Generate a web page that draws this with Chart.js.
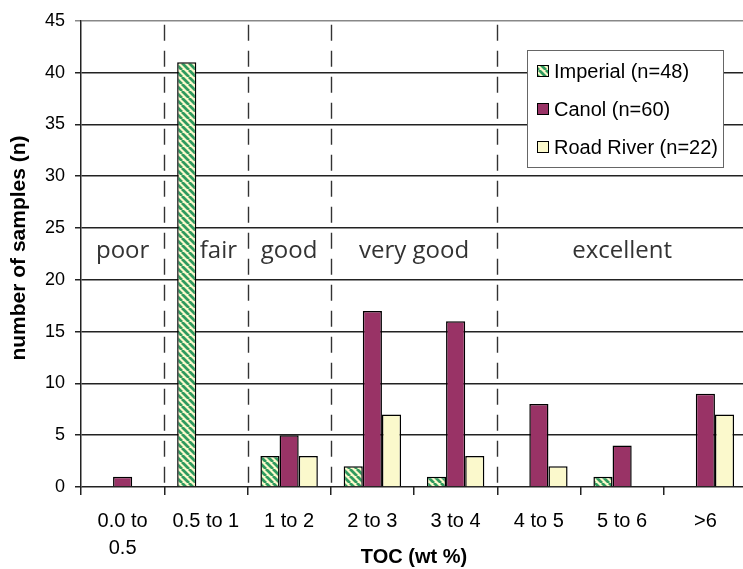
<!DOCTYPE html>
<html>
<head>
<meta charset="utf-8">
<script src="https://cdn.jsdelivr.net/npm/chart.js@4.4.1/dist/chart.umd.min.js"></script>
<style>
  html, body { margin: 0; padding: 0; background: #fff; overflow: hidden; }
  #wrap { width: 747px; height: 569px; }
</style>
</head>
<body>
<div id="wrap"><canvas id="tocChart"></canvas></div>
<script>
  // TOC categories
  const categories = [['0.0 to', '0.5'], '0.5 to 1', '1 to 2', '2 to 3', '3 to 4', '4 to 5', '5 to 6', '>6'];

  // sample counts per category
  const imperial = [0, 41, 3, 2, 1, 0, 1, 0];
  const canol = [1, 0, 5, 17, 16, 8, 4, 9];
  const roadRiver = [0, 0, 3, 7, 3, 2, 0, 7];

  const seriesLabels = ['Imperial (n=48)', 'Canol (n=60)', 'Road River (n=22)'];

  // quality classes, centred at a category position
  const classNames = ['poor', 'fair', 'good', 'very good', 'excellent'];
  const classPositions = [0, 1.15, 2, 3.5, 6];
  // dashed dividers between classes (category units)
  const dividers = [0.5, 1.5, 2.5, 4.5];

  // hatched fill for Imperial
  function makeHatch() {
    const size = 7;
    const c = document.createElement('canvas');
    c.width = size; c.height = size;
    const g = c.getContext('2d');
    g.fillStyle = '#fbf9cc';
    g.fillRect(0, 0, size, size);
    g.strokeStyle = '#2f9a5e';
    g.lineWidth = 2.8;
    g.beginPath();
    for (let k = -1; k <= 1; k++) {
      g.moveTo(k * size, 0);
      g.lineTo(k * size + size, size);
    }
    g.stroke();
    return g.createPattern(c, 'repeat');
  }
  const hatch = makeHatch();

  const classLines = {
    id: 'classLines',
    beforeDatasetsDraw(chart) {
      const { ctx, chartArea, scales } = chart;
      const x = scales.x;
      ctx.save();
      ctx.strokeStyle = '#333';
      ctx.lineWidth = 1.4;
      ctx.setLineDash([16, 10]);
      dividers.forEach(d => {
        const px = Math.round(x.getPixelForValue(d)) + 0.5;
        ctx.beginPath();
        ctx.moveTo(px, chartArea.top + 4);
        ctx.lineTo(px, chartArea.bottom);
        ctx.stroke();
      });
      ctx.setLineDash([]);
      ctx.font = '24px "Open Sans"';
      ctx.fillStyle = '#333';
      ctx.textAlign = 'center';
      ctx.textBaseline = 'middle';
      const y = scales.y.getPixelForValue(22.8);
      classNames.forEach((name, i) => {
        ctx.fillText(name, x.getPixelForValue(classPositions[i]), y);
      });
      ctx.restore();
    },
    afterDraw(chart) {
      const { ctx } = chart;
      ctx.save();
      // axis titles
      ctx.fillStyle = '#000';
      ctx.font = 'bold 20px "Liberation Sans"';
      ctx.textAlign = 'center';
      ctx.textBaseline = 'middle';
      ctx.fillText('TOC (wt %)', 414, 557);
      ctx.translate(19, 248);
      ctx.rotate(-Math.PI / 2);
      ctx.font = 'bold 21px "Liberation Sans"';
      ctx.fillText('number of samples (n)', 0, 0);
      ctx.setTransform(1, 0, 0, 1, 0, 0);

      // legend box inside the plot
      const bx = 527, by = 50, bw = 196, bh = 117;
      ctx.fillStyle = '#fff';
      ctx.fillRect(bx, by, bw, bh);
      ctx.strokeStyle = '#666';
      ctx.lineWidth = 1;
      ctx.strokeRect(bx + 0.5, by + 0.5, bw, bh);
      ctx.font = '20px "Liberation Sans"';
      ctx.textAlign = 'left';
      ctx.textBaseline = 'middle';
      chart.data.datasets.forEach((ds, i) => {
        const cy = by + 21 + i * 38;
        ctx.fillStyle = ds.backgroundColor;
        ctx.fillRect(bx + 10, cy - 6, 12, 12);
        ctx.strokeStyle = '#000';
        ctx.strokeRect(bx + 10.5, cy - 5.5, 11, 11);
        ctx.fillStyle = '#000';
        ctx.fillText(ds.label, bx + 27, cy + 1);
      });
      ctx.restore();
    }
  };

  const makeSet = (label, data, color) => ({
    label: label,
    data: data,
    backgroundColor: color,
    borderColor: '#000',
    borderWidth: 1.5,
    borderSkipped: 'bottom',
    categoryPercentage: 0.69,
    barPercentage: 1
  });

  new Chart(document.getElementById('tocChart'), {
    type: 'bar',
    data: {
      labels: categories,
      datasets: [
        makeSet(seriesLabels[0], imperial, hatch),
        makeSet(seriesLabels[1], canol, '#993366'),
        makeSet(seriesLabels[2], roadRiver, '#fbf9cc')
      ]
    },
    options: {
      responsive: true,
      maintainAspectRatio: false,
      animation: false,
      layout: { padding: { top: 19, right: 0, left: 0, bottom: 0 } },
      scales: {
        x: {
          afterFit: s => { s.height = 82; },
          grid: { drawOnChartArea: false, color: '#222', lineWidth: 1.5, tickLength: 8, offset: true },
          border: { display: false },
          ticks: { color: '#000', font: { family: 'Liberation Sans', size: 20, lineHeight: 1.35 }, padding: 13, maxRotation: 0, autoSkip: false }
        },
        y: {
          min: 0,
          max: 45,
          afterFit: s => { s.width = 81; },
          ticks: { stepSize: 5, color: '#000', font: { family: 'Liberation Sans', size: 18 }, padding: 10 },
          grid: {
            color: ctx => ctx.tick && ctx.tick.value === 45 ? '#888' : '#222',
            lineWidth: 1.5,
            tickLength: 6
          },
          border: { color: '#222', width: 1.5 }
        }
      },
      plugins: {
        legend: { display: false },
        tooltip: { enabled: false }
      }
    },
    plugins: [classLines]
  });
</script>
</body>
</html>
